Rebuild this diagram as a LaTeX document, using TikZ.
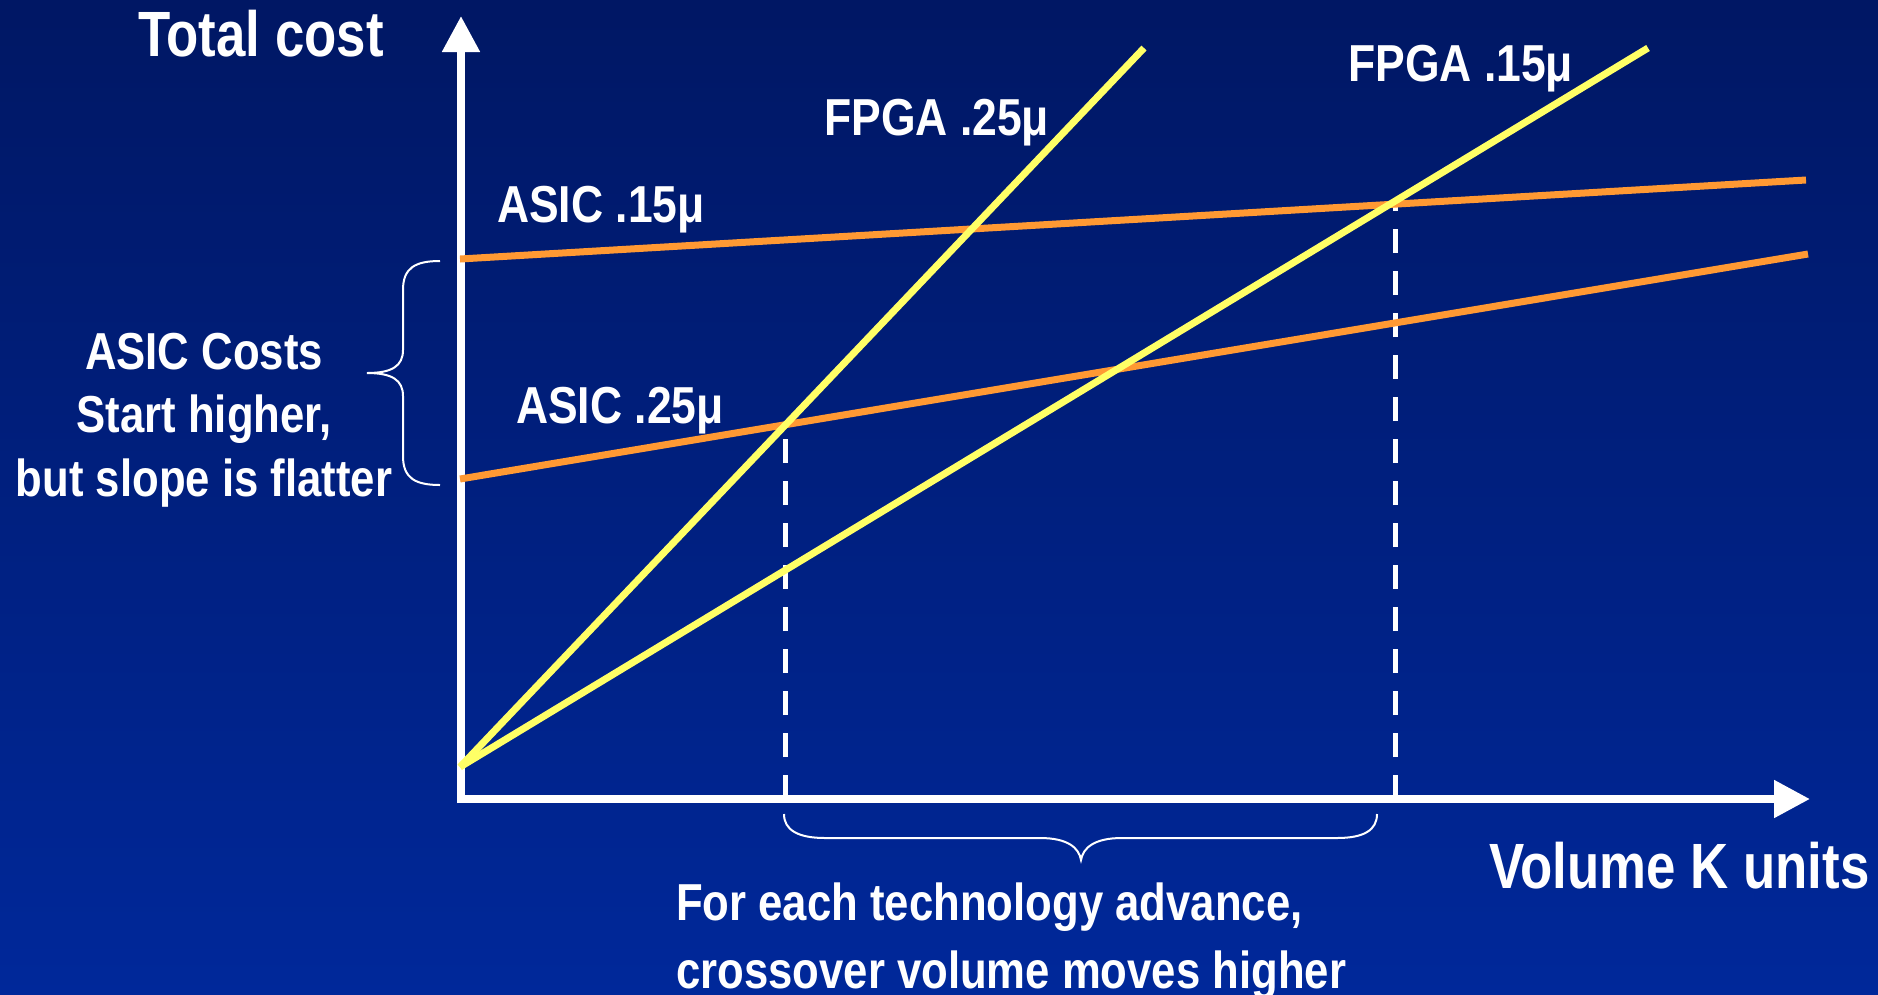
\documentclass[tikz,border=0pt]{standalone}
\usepackage{fontspec}
\setmainfont{Liberation Sans}[FakeStretch=0.82]
\newfontfamily\labfont{Liberation Sans}[FakeStretch=0.855]
\newfontfamily\notefont{Liberation Sans}[FakeStretch=0.84]
\newfontfamily\bigfont{Liberation Sans}[FakeStretch=0.825]
\usetikzlibrary{arrows.meta}
\definecolor{bgtop}{RGB}{0,23,100}
\definecolor{bgbot}{RGB}{0,40,154}
\definecolor{fpgacol}{RGB}{255,255,102}
\definecolor{asiccol}{RGB}{255,153,51}
\tikzset{
  lbl/.style={text=white, inner sep=0pt, anchor=base west, font=\labfont\bfseries\fontsize{52}{60}\selectfont},
  note/.style={lbl, font=\notefont\bfseries\fontsize{52}{60}\selectfont},
  notec/.style={note, anchor=base},
  big/.style={lbl, font=\bigfont\bfseries\fontsize{64}{70}\selectfont},
  axisline/.style={white, line width=8pt, -{Triangle[length=36pt,width=36pt]}},
  fpline/.style={fpgacol, line width=7pt},
  asline/.style={asiccol, line width=7pt},
  crossline/.style={white, line width=5.5pt, dash pattern=on 24pt off 18pt},
  bracepath/.style={white, line width=2pt},
}
\begin{document}
\begin{tikzpicture}[x=1pt,y=-1pt]
\useasboundingbox (0,0) rectangle (1878,994);
\fill[top color=bgtop, bottom color=bgbot] (0,0) rectangle (1878,994);

% coordinates
\coordinate (yb) at (461,803);
\coordinate (yt) at (461,16);
\coordinate (xl) at (457,799);
\coordinate (xr) at (1810,799);
\coordinate (O) at (460,767);
\coordinate (F25) at (1144,48);
\coordinate (F15) at (1648,48);
\coordinate (A15s) at (460,259);
\coordinate (A15e) at (1806,180);
\coordinate (A25s) at (460,479);
\coordinate (A25e) at (1808,254);
\coordinate (X1) at (intersection of O--F25 and A25s--A25e);
\coordinate (X2i) at (intersection of O--F15 and A15s--A15e);
\coordinate (X2) at ([xshift=6pt]X2i);
\coordinate (X1b) at (X1 |- xl);
\coordinate (X2b) at (X2 |- xl);

% axes
\draw[axisline] (yb) -- (yt);
\draw[axisline] (xl) -- (xr);

% dashed crossover lines
\draw[crossline] (X1b) -- (X1);
\draw[crossline] (X2b) -- (X2);

% cost lines
\draw[asline] (A15s) -- (A15e);
\draw[asline] (A25s) -- (A25e);
\draw[fpline] (O) -- (F25);
\draw[fpline] (O) -- (F15);

% braces
\draw[bracepath] (440,261) .. controls (415,261) and (403,268) .. (403,290) -- (403,350)
  .. controls (403,366) and (392,373) .. (367,373)
  .. controls (392,373) and (403,380) .. (403,396) -- (403,456)
  .. controls (403,478) and (415,485) .. (440,485);
\draw[bracepath] (784,814) .. controls (784,830) and (798,838) .. (825,838) -- (1040,838)
  .. controls (1068,838) and (1079,848) .. (1081,860)
  .. controls (1083,848) and (1094,838) .. (1122,838) -- (1337,838)
  .. controls (1364,838) and (1377,830) .. (1377,814);

% labels
\node[big] (ttl) at (138,56) {Total cost};
\node[big] (vol) at (1489,888) {Volume K units};
\node[lbl] (f25) at (824,135) {FPGA .25μ};
\node[lbl] (f15) at (1348,81) {FPGA .15μ};
\node[lbl] (a15) at (497,222) {ASIC .15μ};
\node[lbl] (a25) at (516,423) {ASIC .25μ};
\node[notec] (l1) at (204,369) {ASIC Costs};
\node[notec] (l2) at (204,432) {Start higher,};
\node[notec] (l3) at (204,496) {but slope is flatter};
\node[note] (b1) at (676,920) {For each technology advance,};
\node[note] (b2) at (676,988) {crossover volume moves higher};
\end{tikzpicture}
\end{document}
